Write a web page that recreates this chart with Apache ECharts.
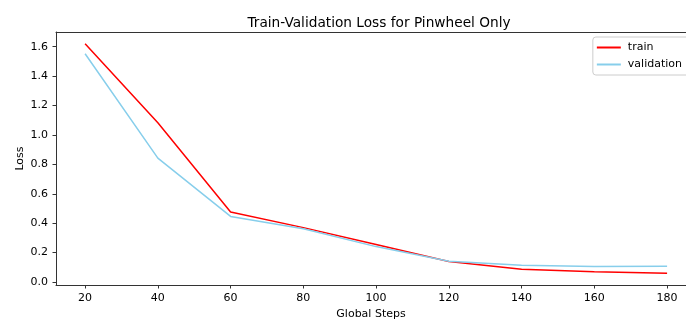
<!DOCTYPE html>
<html>
<head>
<meta charset="utf-8">
<script src="https://cdn.jsdelivr.net/npm/echarts@6/dist/echarts.min.js"></script>
<style>
  html, body { margin: 0; padding: 0; background: #fff; }
  #chart { width: 686px; height: 320px; }
</style>
</head>
<body>
<div id="chart"></div>
<script>
const steps = [20, 40, 60, 80, 100, 120, 140, 160, 180];
const trainLoss = [1.62, 1.083, 0.476, 0.37, 0.255, 0.14, 0.087, 0.07, 0.06];
const valLoss = [1.552, 0.843, 0.446, 0.362, 0.241, 0.142, 0.114, 0.105, 0.108];
const xTicks = [20, 40, 60, 80, 100, 120, 140, 160, 180];
const yTicks = [0, 0.2, 0.4, 0.6, 0.8, 1.0, 1.2, 1.4, 1.6];

const font = "DejaVu Sans";
const axisColor = "#333";
const chart = echarts.init(document.getElementById("chart"));

function pairs(ys) {
  return steps.map((s, i) => [s, ys[i]]);
}

chart.setOption({
  animation: false,
  textStyle: { fontFamily: font },
  title: {
    text: "Train-Validation Loss for Pinwheel Only",
    left: 374,
    textAlign: "center",
    top: 11,
    textStyle: { fontFamily: font, fontSize: 13.7, fontWeight: "normal", color: "#000" },
  },
  legend: {
    right: -4,
    top: 37,
    orient: "vertical",
    icon: "rect",
    itemWidth: 24,
    itemHeight: 2,
    itemGap: 6,
    padding: [5, 8, 5, 4],
    borderColor: "#ccc",
    borderWidth: 1,
    borderRadius: 3,
    backgroundColor: "rgba(255,255,255,0.8)",
    textStyle: { fontFamily: font, fontSize: 11, color: "#000", padding: [0, 0, 0, 2] },
    data: ["train", "validation"],
  },
  grid: {
    left: 56,
    right: 0,
    top: 32,
    bottom: 35,
    outerBoundsMode: "none",
    containLabel: false,
  },
  xAxis: [
    {
      type: "value",
      min: 12,
      max: 185.2,
      name: "Global Steps",
      nameLocation: "middle",
      nameGap: 23,
      nameTextStyle: { fontFamily: font, fontSize: 11, color: "#000" },
      axisLine: { show: true, onZero: false, lineStyle: { color: axisColor, width: 1 } },
      axisTick: { show: true, length: 3.5, customValues: xTicks, lineStyle: { color: axisColor } },
      axisLabel: { customValues: xTicks, fontSize: 11, color: "#000", margin: 8 },
      splitLine: { show: false },
    },
    {
      type: "value",
      position: "top",
      min: 12,
      max: 185.2,
      axisLine: { show: true, onZero: false, lineStyle: { color: axisColor, width: 1 } },
      axisTick: { show: false },
      axisLabel: { show: false },
      splitLine: { show: false },
    },
  ],
  yAxis: {
    type: "value",
    min: -0.02,
    max: 1.70,
    name: "Loss",
    nameLocation: "middle",
    nameRotate: 90,
    nameGap: 30,
    nameMoveOverlap: false,
    nameTextStyle: { fontFamily: font, fontSize: 11, color: "#000" },
    axisLine: { show: true, onZero: false, lineStyle: { color: axisColor, width: 1 } },
    axisTick: { show: true, length: 3.5, customValues: yTicks, lineStyle: { color: axisColor } },
    axisLabel: {
      customValues: yTicks,
      fontSize: 11,
      color: "#000",
      margin: 8,
      formatter: v => v.toFixed(1),
    },
    splitLine: { show: false },
  },
  series: [
    {
      name: "train",
      type: "line",
      data: pairs(trainLoss),
      showSymbol: false,
      symbol: "none",
      itemStyle: { color: "red" },
      lineStyle: { color: "red", width: 1.5 },
    },
    {
      name: "validation",
      type: "line",
      data: pairs(valLoss),
      showSymbol: false,
      symbol: "none",
      itemStyle: { color: "#87CEEB" },
      lineStyle: { color: "#87CEEB", width: 1.5 },
    },
  ],
});
</script>
</body>
</html>
